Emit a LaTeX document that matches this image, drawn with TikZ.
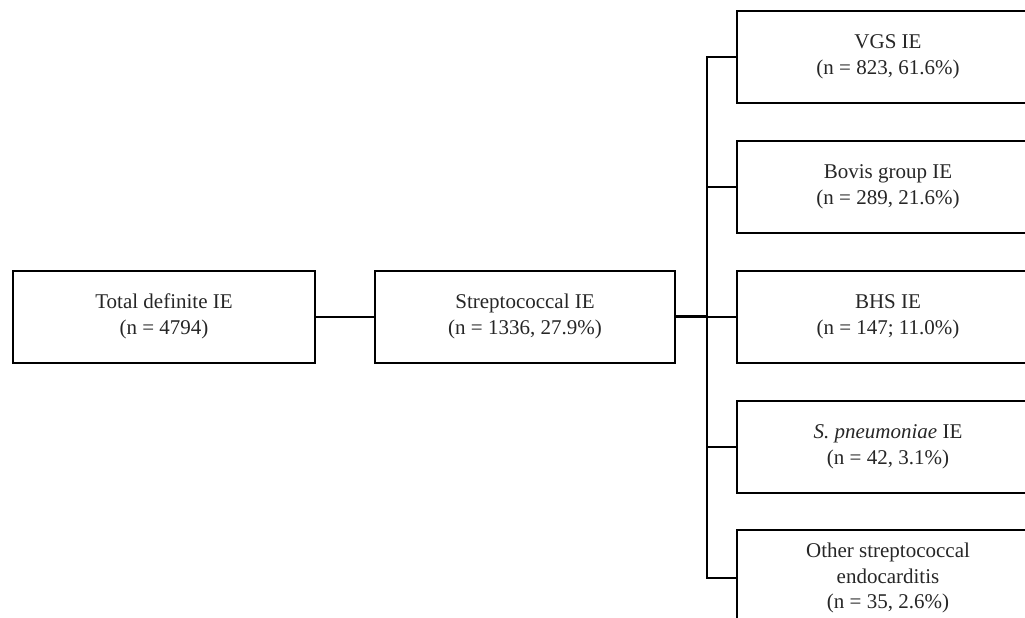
\documentclass[tikz,border=0pt]{standalone}
\usepackage{fontspec}
\setmainfont{Liberation Serif}
\usepackage{tikz}
\usetikzlibrary{positioning}
\tikzset{box/.style = {draw, line width=2, minimum width=302, minimum height=92,
                       align=center, inner sep=0,
                       font=\fontsize{21}{25.5}\selectfont, text=black!85}}
\tikzset{link/.style = {line width=2}}
\tikzset{heavylink/.style = {line width=3.5}}

\begin{document}
\begin{tikzpicture}[x=1pt, y=-1pt]
    \useasboundingbox (0, 0) rectangle (1025, 618);
    \clip (0, 0) rectangle (1025, 618);

    \node [box] (total) at (164, 316.5) {Total definite IE\\(n = 4794)};
    \node [box, minimum width=300] (strep) at (525, 316.5) {Streptococcal IE\\(n = 1336, 27.9\%)};
    \coordinate (fork) at (707, 316.5);

    \node [box] (vgs) at (888, 57) {VGS IE\\(n = 823, 61.6\%)};
    \node [box] (bovis) at (888, 187) {Bovis group IE\\(n = 289, 21.6\%)};
    \node [box] (bhs) at (888, 317) {BHS IE\\(n = 147; 11.0\%)};
    \node [box] (pneumo) at (888, 447) {\textit{S. pneumoniae} IE\\(n = 42, 3.1\%)};
    \node [box, minimum height=96] (other) at (888, 578)
      {Other streptococcal\\endocarditis\\(n = 35, 2.6\%)};

    \draw [link] (total) -- (strep);
    \draw [heavylink] (strep.east) -- (fork);
    \foreach \n in {vgs, bovis, bhs, pneumo, other} {
      \draw [link] (fork) |- (\n.west);
    }
\end{tikzpicture}
\end{document}
